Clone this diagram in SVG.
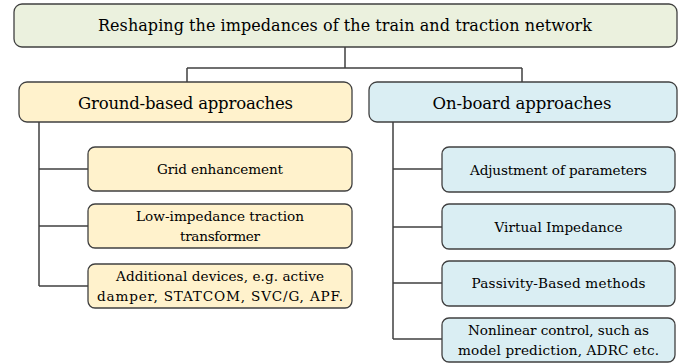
<svg xmlns="http://www.w3.org/2000/svg" width="690" height="364" viewBox="0 0 690 364">
<style>
.b{stroke:#404040;stroke-width:1.3}
.g{fill:#ebf1de}.y{fill:#fff2cc}.u{fill:#daeef3}
text{fill:#000;text-anchor:middle;font-family:"DejaVu Serif","Liberation Serif",serif}
.t1{font-size:16px}.t2{font-size:16.5px}.t3{font-size:13.6px}
.c{fill:none;stroke:#404040;stroke-width:1.5}
</style>
<rect width="690" height="364" fill="#fff"/>
<g id="connectors">
<path class="c" d="M345 47V68M187 68H522M187 68V82M522 68V82"/>
<path class="c" d="M39 122V286M39 169H88M39 226H88M39 286H88"/>
<path class="c" d="M393 122V339M393 169H442M393 227H442M393 283H442M393 339H442"/>
</g>
<g id="root"><rect class="b g" x="14" y="4" width="663" height="43" rx="8"/><text class="t1" x="345" y="31" textLength="494">Reshaping the impedances of the train and traction network</text></g>
<g id="ground"><rect class="b y" x="19" y="82" width="333" height="40" rx="8"/><text class="t2" x="185.5" y="108.5" textLength="215">Ground-based approaches</text></g>
<g id="onboard"><rect class="b u" x="369" y="82" width="308" height="40" rx="8"/><text class="t2" x="522" y="108.5" textLength="179">On-board approaches</text></g>
<g id="grid"><rect class="b y" x="88" y="147" width="264" height="44" rx="7"/><text class="t3" x="220" y="174" textLength="126">Grid enhancement</text></g>
<g id="lowimp"><rect class="b y" x="88" y="204" width="264" height="44" rx="7"/><text class="t3" x="220" y="221" textLength="168">Low-impedance traction</text><text class="t3" x="220" y="241" textLength="80">transformer</text></g>
<g id="additional"><rect class="b y" x="88" y="264" width="264" height="44" rx="7"/><text class="t3" x="220" y="281" textLength="208">Additional devices, e.g. active</text><text class="t3" x="220" y="301" textLength="246">damper, STATCOM, SVC/G, APF.</text></g>
<g id="adjust"><rect class="b u" x="442" y="147" width="233" height="45" rx="7"/><text class="t3" x="558.5" y="175" textLength="177">Adjustment of parameters</text></g>
<g id="virtual"><rect class="b u" x="442" y="204" width="233" height="45" rx="7"/><text class="t3" x="558.5" y="232" textLength="128">Virtual Impedance</text></g>
<g id="passivity"><rect class="b u" x="442" y="261" width="233" height="45" rx="7"/><text class="t3" x="558.5" y="288" textLength="174">Passivity-Based methods</text></g>
<g id="nonlinear"><rect class="b u" x="442" y="318" width="233" height="44" rx="7"/><text class="t3" x="558.5" y="335" textLength="181">Nonlinear control, such as</text><text class="t3" x="558.5" y="355" textLength="201">model prediction, ADRC etc.</text></g>
</svg>
